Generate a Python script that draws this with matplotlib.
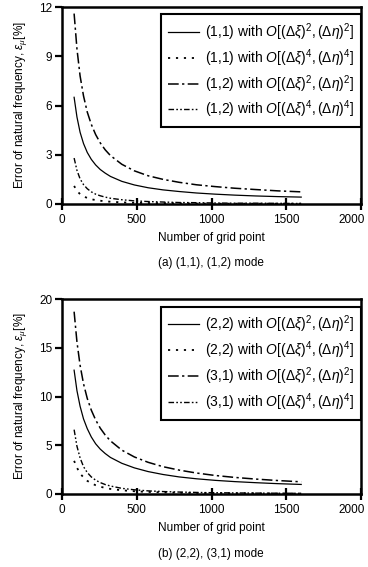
import matplotlib
matplotlib.use("Agg")
import matplotlib.pyplot as plt
from matplotlib.transforms import ScaledTranslation

plt.rcParams['font.family'] = ['Liberation Sans', 'DejaVu Sans']
plt.rcParams['mathtext.fontset'] = 'custom'
plt.rcParams['mathtext.rm'] = 'Liberation Sans'
plt.rcParams['mathtext.it'] = 'Liberation Sans:italic'

grid_points = [81, 100, 121, 144, 169, 196, 225, 256, 289, 324, 400, 484, 576,
               676, 784, 900, 1024, 1156, 1296, 1444, 1600]

# Panel (a): (1,1), (1,2) modes
m11_o2 = [6.5, 5.3, 4.37, 3.68, 3.14, 2.72, 2.38, 2.1, 1.88, 1.68, 1.38, 1.16, 0.99,
          0.86, 0.76, 0.67, 0.6, 0.54, 0.49, 0.45, 0.42]
m11_o4 = [1.1, 0.8, 0.6, 0.46, 0.37, 0.29, 0.24, 0.2, 0.16, 0.14, 0.1, 0.07, 0.06,
          0.05, 0.04, 0.03, 0.02, 0.02, 0.02, 0.02, 0.02]
m12_o2 = [11.6, 9.45, 7.8, 6.58, 5.6, 4.85, 4.23, 3.72, 3.3, 2.95, 2.42, 2.02, 1.72,
          1.5, 1.32, 1.17, 1.06, 0.96, 0.88, 0.8, 0.74]
m12_o4 = [2.8, 2.05, 1.53, 1.18, 0.93, 0.74, 0.6, 0.5, 0.42, 0.35, 0.26, 0.19, 0.15,
          0.12, 0.09, 0.08, 0.06, 0.05, 0.05, 0.04, 0.03]

# Panel (b): (2,2), (3,1) modes
m22_o2 = [12.7, 10.6, 9.0, 7.7, 6.7, 5.85, 5.15, 4.6, 4.15, 3.75, 3.15, 2.68, 2.3,
          2.0, 1.75, 1.56, 1.4, 1.27, 1.16, 1.06, 0.98]
m22_o4 = [3.4, 2.7, 2.1, 1.7, 1.35, 1.1, 0.9, 0.75, 0.62, 0.52, 0.38, 0.28, 0.21,
          0.17, 0.13, 0.11, 0.09, 0.08, 0.07, 0.06, 0.05]
m31_o2 = [18.7, 15.6, 13.2, 11.3, 9.8, 8.6, 7.6, 6.75, 6.05, 5.45, 4.5, 3.8, 3.25,
          2.8, 2.45, 2.15, 1.9, 1.7, 1.53, 1.38, 1.25]
m31_o4 = [6.6, 4.9, 3.7, 2.8, 2.2, 1.75, 1.42, 1.17, 0.97, 0.82, 0.58, 0.43, 0.32,
          0.25, 0.2, 0.16, 0.13, 0.11, 0.09, 0.08, 0.07]

xticks = [0, 500, 1000, 1500, 2000]
yticks_a = [0, 3, 6, 9, 12]
yticks_b = [0, 5, 10, 15, 20]

o2 = r"$O[(\Delta\xi)^2,(\Delta\eta)^2]$"
o4 = r"$O[(\Delta\xi)^4,(\Delta\eta)^4]$"

styles = [
    dict(linestyle='-', lw=0.9),
    dict(linestyle=(0, (1.2, 3.2)), lw=1.3),
    dict(linestyle=(0, (7, 2.2, 1.5, 2.2)), lw=1.1),
    dict(linestyle=(0, (4, 1.6, 1.2, 1.6, 1.2, 1.6)), lw=1.0),
]

fig = plt.figure(figsize=(3.68, 5.67), dpi=100)
ax_a = fig.add_axes([62/368, 1-204/567, 299/368, 197/567])
ax_b = fig.add_axes([62/368, 1-494/567, 299/368, 195/567])

panels = [
    (ax_a, [m11_o2, m11_o4, m12_o2, m12_o4], ["(1,1)", "(1,1)", "(1,2)", "(1,2)"], yticks_a, 12,
     "(a) (1,1), (1,2) mode", 263, 0.962),
    (ax_b, [m22_o2, m22_o4, m31_o2, m31_o4], ["(2,2)", "(2,2)", "(3,1)", "(3,1)"], yticks_b, 20,
     "(b) (2,2), (3,1) mode", 554, 0.96),
]

for ax, series, modes, yt, ymax, caption, cy, ly in panels:
    for s, m, st, order in zip(series, modes, styles, [o2, o4, o2, o4]):
        ax.plot(grid_points, s, color='black', label=f"{m} with {order}", **st)
    ax.set_xlim(0, 2000)
    ax.set_ylim(0, ymax)
    ax.set_xticks(xticks)
    ax.set_yticks(yt)
    for sp in ax.spines.values():
        sp.set_linewidth(1.8)
    ax.tick_params(axis='x', direction='inout', length=9, width=1.6, labelsize=8.5, pad=3)
    ax.tick_params(axis='y', direction='out', length=5, width=1.6, labelsize=8.5, pad=2)
    ax.set_xlabel("Number of grid point", fontsize=8.5, labelpad=4)
    ax.set_ylabel(r"Error of natural frequency, $\varepsilon_\mu$[%]", fontsize=8.5, labelpad=7)
    fig.canvas.draw()
    last = ax.get_xticklabels()[-1]
    last.set_horizontalalignment('right')
    last.set_transform(last.get_transform() + ScaledTranslation(4/100, 0, fig.dpi_scale_trans))
    leg = ax.legend(loc='upper right', bbox_to_anchor=(1.0, ly), fontsize=10,
                    frameon=True, fancybox=False, edgecolor='black', framealpha=1,
                    handlelength=2.2, handletextpad=0.45, labelspacing=0.3,
                    borderpad=0.5, borderaxespad=0.0)
    leg.get_frame().set_linewidth(1.5)
    fig.text(211/368, 1-cy/567, caption, ha='center', va='center', fontsize=8.5)

fig.savefig("out.png", dpi=100)
